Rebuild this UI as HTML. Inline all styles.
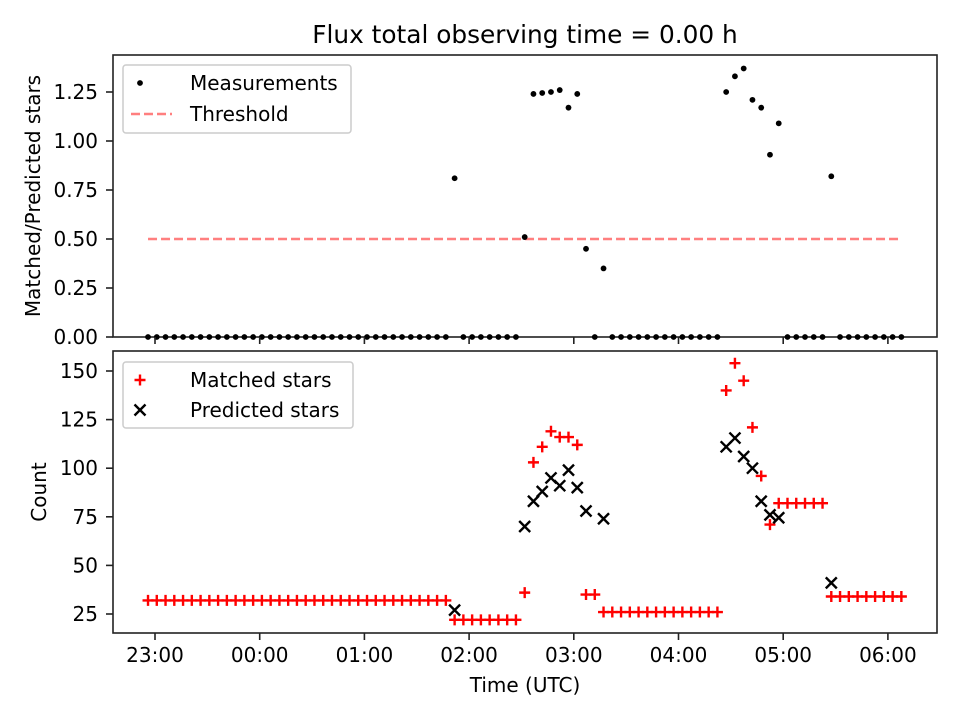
<!DOCTYPE html>
<html><head><meta charset="utf-8">
<style>
body{margin:0;background:#fff;}
svg{display:block;font-family:"DejaVu Sans","Liberation Sans",sans-serif;}
</style></head>
<body>
<svg id="chart" width="960" height="720" viewBox="0 0 960 720" xmlns="http://www.w3.org/2000/svg"></svg>
<script>
// sample index k -> minutes after 23:00 = -4 + 5.02k
const sampleIdx = Array.from({length:87},(_,k)=>k);
const matched = [
 32,32,32,32,32,32,32,32,32,32,32,32,32,32,32,32,32,32,32,32,
 32,32,32,32,32,32,32,32,32,32,32,32,32,32,32,
 22,22,22,22,22,22,22,22,
 36,103,111,119,116,116,112,35,35,26,
 26,26,26,26,26,26,26,26,26,26,26,26,26,
 140,154,145,121,96,71,82,82,82,82,82,82,
 34,34,34,34,34,34,34,34,34];
const predicted = [];
const predPts = {35:27,43:70,44:83,45:88,46:95,47:91,48:99,49:90,50:78,52:74,66:111,67:115.5,68:106,69:100,70:83,71:76,72:74.5,78:41};
const ratio = [];
const ratioPts = {35:0.81,43:0.51,44:1.24,45:1.245,46:1.25,47:1.26,48:1.17,49:1.24,50:0.45,52:0.35,66:1.25,67:1.33,68:1.37,69:1.21,70:1.17,71:0.93,72:1.09,78:0.82};
for(const k of sampleIdx){predicted.push(predPts[k]!==undefined?predPts[k]:null);ratio.push(ratioPts[k]!==undefined?ratioPts[k]:0);}
const threshold = 0.5;
const xTickLabels = ["23:00","00:00","01:00","02:00","03:00","04:00","05:00","06:00"];
const topYTicks = [0,0.25,0.5,0.75,1.0,1.25];
const botYTicks = [25,50,75,100,125,150];

const NS="http://www.w3.org/2000/svg";
const svg=document.getElementById('chart');
function mk(tag,attrs,parent){const e=document.createElementNS(NS,tag);for(const a in attrs)e.setAttribute(a,attrs[a]);(parent||svg).appendChild(e);return e;}
const L=113,R=937;
const minOf=k=>-4+5.02*k;
const xS=m=>155+m*(104.7/60);
const yTop=v=>337-v*196;
const yBot=v=>614-(v-25)*1.944;
const FS=20;

const t=mk('text',{x:525,y:43,'text-anchor':'middle','font-size':24.8});t.textContent="Flux total observing time = 0.00 h";



function axes(y0,y1,name){
 const g=mk('g',{});
 
 
 mk('rect',{x:L,y:y0,width:R-L,height:y1-y0,fill:'none',stroke:'#222','stroke-width':1.6},g);
 return g;
}
// ---- top panel
const gTop=axes(55,337,'ratio-panel');
const thr=mk('line',{x1:xS(minOf(0)),x2:xS(minOf(86)),y1:yTop(threshold),y2:yTop(threshold),stroke:'#ff7f7f','stroke-width':2.5,'stroke-dasharray':'9,4'},gTop);


sampleIdx.forEach((k,i)=>{
 const c=mk('circle',{cx:xS(minOf(k)),cy:yTop(ratio[i]),r:2.9,fill:'#000'},gTop);
 
 
});
topYTicks.forEach(v=>{
 const y=yTop(v);
 mk('line',{x1:L-7,x2:L,y1:y,y2:y,stroke:'#222','stroke-width':1.6},gTop);
 const tx=mk('text',{x:L-15,y:y+7,'text-anchor':'end','font-size':FS},gTop);tx.textContent=v.toFixed(2);
 
 
});
xTickLabels.forEach((s,i)=>{const x=xS(i*60);mk('line',{x1:x,x2:x,y1:337,y2:344,stroke:'#222','stroke-width':1.6},gTop);});
const yl1=mk('text',{transform:'translate(40,196) rotate(-90)','text-anchor':'middle','font-size':FS});yl1.textContent="Matched/Predicted stars";



const lg1=mk('g',{});


mk('rect',{x:123,y:65,width:228,height:68,rx:3,fill:'#fff',stroke:'#ccc','stroke-width':1.5},lg1);
mk('circle',{cx:140,cy:83,r:2.9,fill:'#000'},lg1);
let tt=mk('text',{x:190,y:90,'font-size':FS},lg1);tt.textContent="Measurements";


mk('line',{x1:131,x2:172,y1:114,y2:114,stroke:'#ff7f7f','stroke-width':2.5,'stroke-dasharray':'9,4'},lg1);
tt=mk('text',{x:190,y:121,'font-size':FS},lg1);tt.textContent="Threshold";



// ---- bottom panel
const gBot=axes(351,633,'count-panel');
function plus(x,y,g){mk('path',{d:`M${x-5.5},${y}H${x+5.5}M${x},${y-5.5}V${y+5.5}`,stroke:'#ff0000','stroke-width':2.4},g);}
function cross(x,y,g){mk('path',{d:`M${x-5.5},${y-5.5}L${x+5.5},${y+5.5}M${x-5.5},${y+5.5}L${x+5.5},${y-5.5}`,stroke:'#000','stroke-width':2.4},g);}
sampleIdx.forEach((k,i)=>{
 const gm=mk('g',{},gBot);
 
 
 plus(xS(minOf(k)),yBot(matched[i]),gm);
});
sampleIdx.forEach((k,i)=>{
 if(predicted[i]===null)return;
 const gp=mk('g',{},gBot);
 
 
 cross(xS(minOf(k)),yBot(predicted[i]),gp);
});
botYTicks.forEach(v=>{
 const y=yBot(v);
 mk('line',{x1:L-7,x2:L,y1:y,y2:y,stroke:'#222','stroke-width':1.6},gBot);
 const tx=mk('text',{x:L-15,y:y+7,'text-anchor':'end','font-size':FS},gBot);tx.textContent=v;
 
 
});
xTickLabels.forEach((s,i)=>{
 const x=xS(i*60);
 mk('line',{x1:x,x2:x,y1:633,y2:640,stroke:'#222','stroke-width':1.6},gBot);
 const tx=mk('text',{x:x,y:662,'text-anchor':'middle','font-size':FS},gBot);tx.textContent=s;
 
 
});
const yl2=mk('text',{transform:'translate(46,492) rotate(-90)','text-anchor':'middle','font-size':FS});yl2.textContent="Count";


const xl=mk('text',{x:525,y:692,'text-anchor':'middle','font-size':FS});xl.textContent="Time (UTC)";



const lg2=mk('g',{});


mk('rect',{x:123,y:362,width:230,height:66,rx:3,fill:'#fff',stroke:'#ccc','stroke-width':1.5},lg2);
plus(140,380,lg2);
tt=mk('text',{x:190,y:387,'font-size':FS},lg2);tt.textContent="Matched stars";


cross(140,410,lg2);
tt=mk('text',{x:190,y:417,'font-size':FS},lg2);tt.textContent="Predicted stars";


</script>
</body></html>
